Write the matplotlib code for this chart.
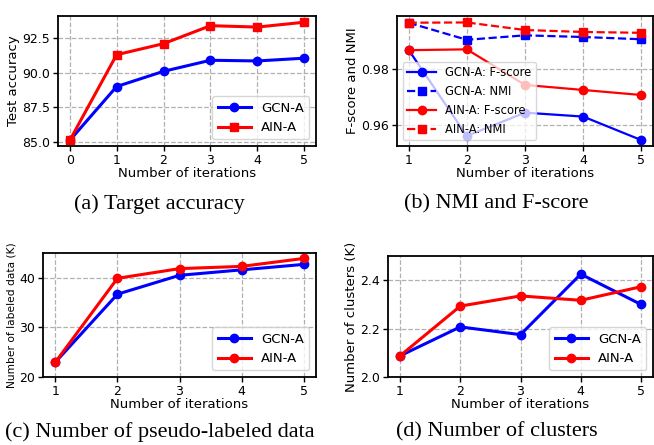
import numpy as np
import matplotlib
matplotlib.use("Agg")
import matplotlib.pyplot as plt

# ---- data ----
iters_a = [0, 1, 2, 3, 4, 5]
acc_gcn = [85.1, 89.0, 90.1, 90.9, 90.85, 91.05]
acc_ain = [85.1, 91.3, 92.1, 93.4, 93.3, 93.65]

iters = [1, 2, 3, 4, 5]
f_gcn = [0.9868, 0.9561, 0.9644, 0.9630, 0.9546]
nmi_gcn = [0.9965, 0.9904, 0.9920, 0.9914, 0.9906]
f_ain = [0.9867, 0.9870, 0.9743, 0.9725, 0.9707]
nmi_ain = [0.9965, 0.9966, 0.9939, 0.9932, 0.9929]

lab_gcn = [23.0, 36.7, 40.5, 41.6, 42.7]
lab_ain = [23.0, 39.9, 41.85, 42.3, 43.9]

clu_gcn = [2.0875, 2.207, 2.175, 2.425, 2.30]
clu_ain = [2.0875, 2.293, 2.335, 2.317, 2.373]

W, H = 654, 445
fig = plt.figure(figsize=(W / 100, H / 100), dpi=100)


def box(l, r, t, b):
    return [l / W, 1 - b / H, (r - l) / W, (b - t) / H]


def style(ax):
    ax.grid(True, linestyle='--', color='#b0b0b0', lw=0.9)
    ax.set_axisbelow(True)
    for s in ax.spines.values():
        s.set_linewidth(1.3)
    ax.tick_params(labelsize=9, length=3.5, width=1, pad=2)
    ax.set_xlabel("Number of iterations", fontsize=9.5, labelpad=0)


kw = dict(lw=2.2, ms=6)

# (a) target accuracy
ax = fig.add_axes(box(58, 316, 16, 146))
ax.plot(iters_a, acc_gcn, 'b-o', label='GCN-A', **kw)
ax.plot(iters_a, acc_ain, 'r-s', label='AIN-A', **kw)
ax.set_ylim(84.7, 94.1)
ax.set_yticks([85.0, 87.5, 90.0, 92.5])
ax.set_xticks(iters_a)
ax.set_ylabel("Test accuracy", fontsize=9.5, labelpad=2)
style(ax)
ax.legend(loc='lower right', fontsize=9.5, handlelength=2.5)

# (b) NMI and F-score
ax = fig.add_axes(box(397, 653, 16, 146))
ax.plot(iters, f_gcn, 'b-o', label='GCN-A: F-score', lw=1.6, ms=6)
ax.plot(iters, nmi_gcn, 'b--s', label='GCN-A: NMI', lw=1.6, ms=6)
ax.plot(iters, f_ain, 'r-o', label='AIN-A: F-score', lw=1.6, ms=6)
ax.plot(iters, nmi_ain, 'r--s', label='AIN-A: NMI', lw=1.6, ms=6)
ax.set_ylim(0.9525, 0.9989)
ax.set_yticks([0.96, 0.98])
ax.set_xticks(iters)
ax.set_ylabel("F-score and NMI", fontsize=9.5, labelpad=2)
style(ax)
ax.legend(loc='lower left', fontsize=8.3, handlelength=2.5, framealpha=0.75)

# (c) number of pseudo-labeled data
ax = fig.add_axes(box(43, 316, 253, 377))
ax.plot(iters, lab_gcn, 'b-o', label='GCN-A', **kw)
ax.plot(iters, lab_ain, 'r-o', label='AIN-A', **kw)
ax.set_ylim(20, 45)
ax.set_yticks([20, 30, 40])
ax.set_xticks(iters)
ax.set_ylabel("Number of labeled data (K)", fontsize=7.7, labelpad=2)
style(ax)
ax.legend(loc='lower right', fontsize=9.5, handlelength=2.5)

# (d) number of clusters
ax = fig.add_axes(box(388, 653, 256, 377))
ax.plot(iters, clu_gcn, 'b-o', label='GCN-A', **kw)
ax.plot(iters, clu_ain, 'r-o', label='AIN-A', **kw)
ax.set_ylim(2.0, 2.5)
ax.set_yticks([2.0, 2.2, 2.4])
ax.set_xticks(iters)
ax.set_ylabel("Number of clusters (K)", fontsize=9.5, labelpad=2)
style(ax)
ax.legend(loc='lower right', fontsize=9.5, handlelength=2.5)

# captions
cap = dict(fontsize=16, family='Liberation Serif', ha='center', va='center')
fig.text(159 / W, 1 - 204 / H, "(a) Target accuracy", **cap)
fig.text(496 / W, 1 - 204 / H, "(b) NMI and F-score", **cap)
fig.text(160 / W, 1 - 432 / H, "(c) Number of pseudo-labeled data", **cap)
fig.text(497 / W, 1 - 432 / H, "(d) Number of clusters", **cap)

fig.savefig("out.png", dpi=100)
